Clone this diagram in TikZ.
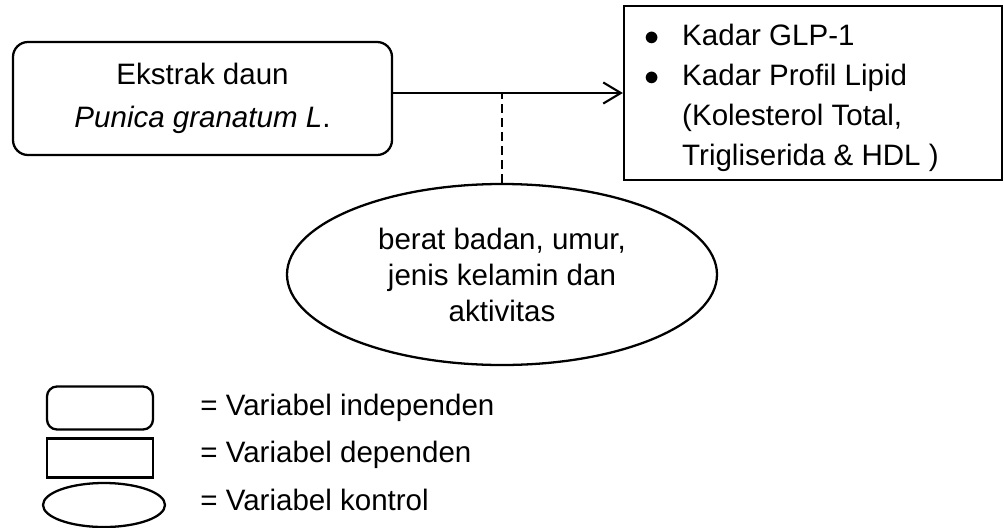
\documentclass[tikz,border=0pt]{standalone}
\usepackage{fontspec}
\setmainfont{Liberation Sans}
\usetikzlibrary{arrows.meta, shapes.geometric}

\begin{document}
\begin{tikzpicture}[
  box/.style={draw, line width=1.3pt, inner sep=0pt, align=center},
  txt/.style={font=\fontsize{16.8}{24.5}\selectfont},
  arr/.style={-{Straight Barb[length=10pt, width=12pt]}, line width=1.2pt},
  ctrlline/.style={dash pattern=on 5pt off 3pt, line width=0.6pt},
  legtext/.style={anchor=base west, inner sep=0pt, font=\fontsize{16.8}{20}\selectfont}
]
  \useasboundingbox (0, 0) rectangle (20.1, -10.54);

  % Variabel independen
  \node[box, txt, rounded corners=0.3cm, minimum width=7.58cm, minimum height=2.26cm]
    (indep) at (4.05, -1.97) {Ekstrak daun\\\textit{Punica granatum L}.};

  % Variabel dependen
  \node[box, minimum width=7.56cm, minimum height=3.48cm] (dep) at (16.26, -1.86) {};
  \node[anchor=north west, inner sep=0pt, font=\fontsize{16.8}{22.8}\selectfont]
    (deptext) at ([xshift=0.42cm, yshift=-0.24cm]dep.north west)
    {\begin{tabular}{@{}l@{\hspace{13pt}}l@{}}
       $\bullet$ & Kadar GLP-1\\
       $\bullet$ & Kadar Profil Lipid\\
                 & (Kolesterol Total,\\
                 & Trigliserida \& HDL )
     \end{tabular}};

  % Arrow
  \draw[arr] (indep.east |- dep.west) -- (dep.west);

  % Variabel kontrol
  \node[box, ellipse, font=\fontsize{16.8}{20.5}\selectfont,
    minimum width=8.6cm, minimum height=3.62cm] (ctrl) at (10.04, -5.49)
    {berat badan, umur,\\jenis kelamin dan\\aktivitas};
  \draw[ctrlline] (ctrl.north) -- (ctrl.north |- dep.west);

  % Legend
  \node[box, rounded corners=0.2cm, minimum width=2.12cm, minimum height=0.86cm]
    (legA) at (2.0, -8.16) {};
  \node[box, minimum width=2.12cm, minimum height=0.78cm] (legB) at (2.0, -9.16) {};
  \node[box, ellipse, minimum width=2.44cm, minimum height=0.88cm]
    (legC) at (2.08, -10.1) {};

  \node[legtext] (legAtext) at (4.0, -8.30) {= Variabel independen};
  \node[legtext] (legBtext) at (4.0, -9.24) {= Variabel dependen};
  \node[legtext] (legCtext) at (4.0, -10.20) {= Variabel kontrol};
\end{tikzpicture}
\end{document}
